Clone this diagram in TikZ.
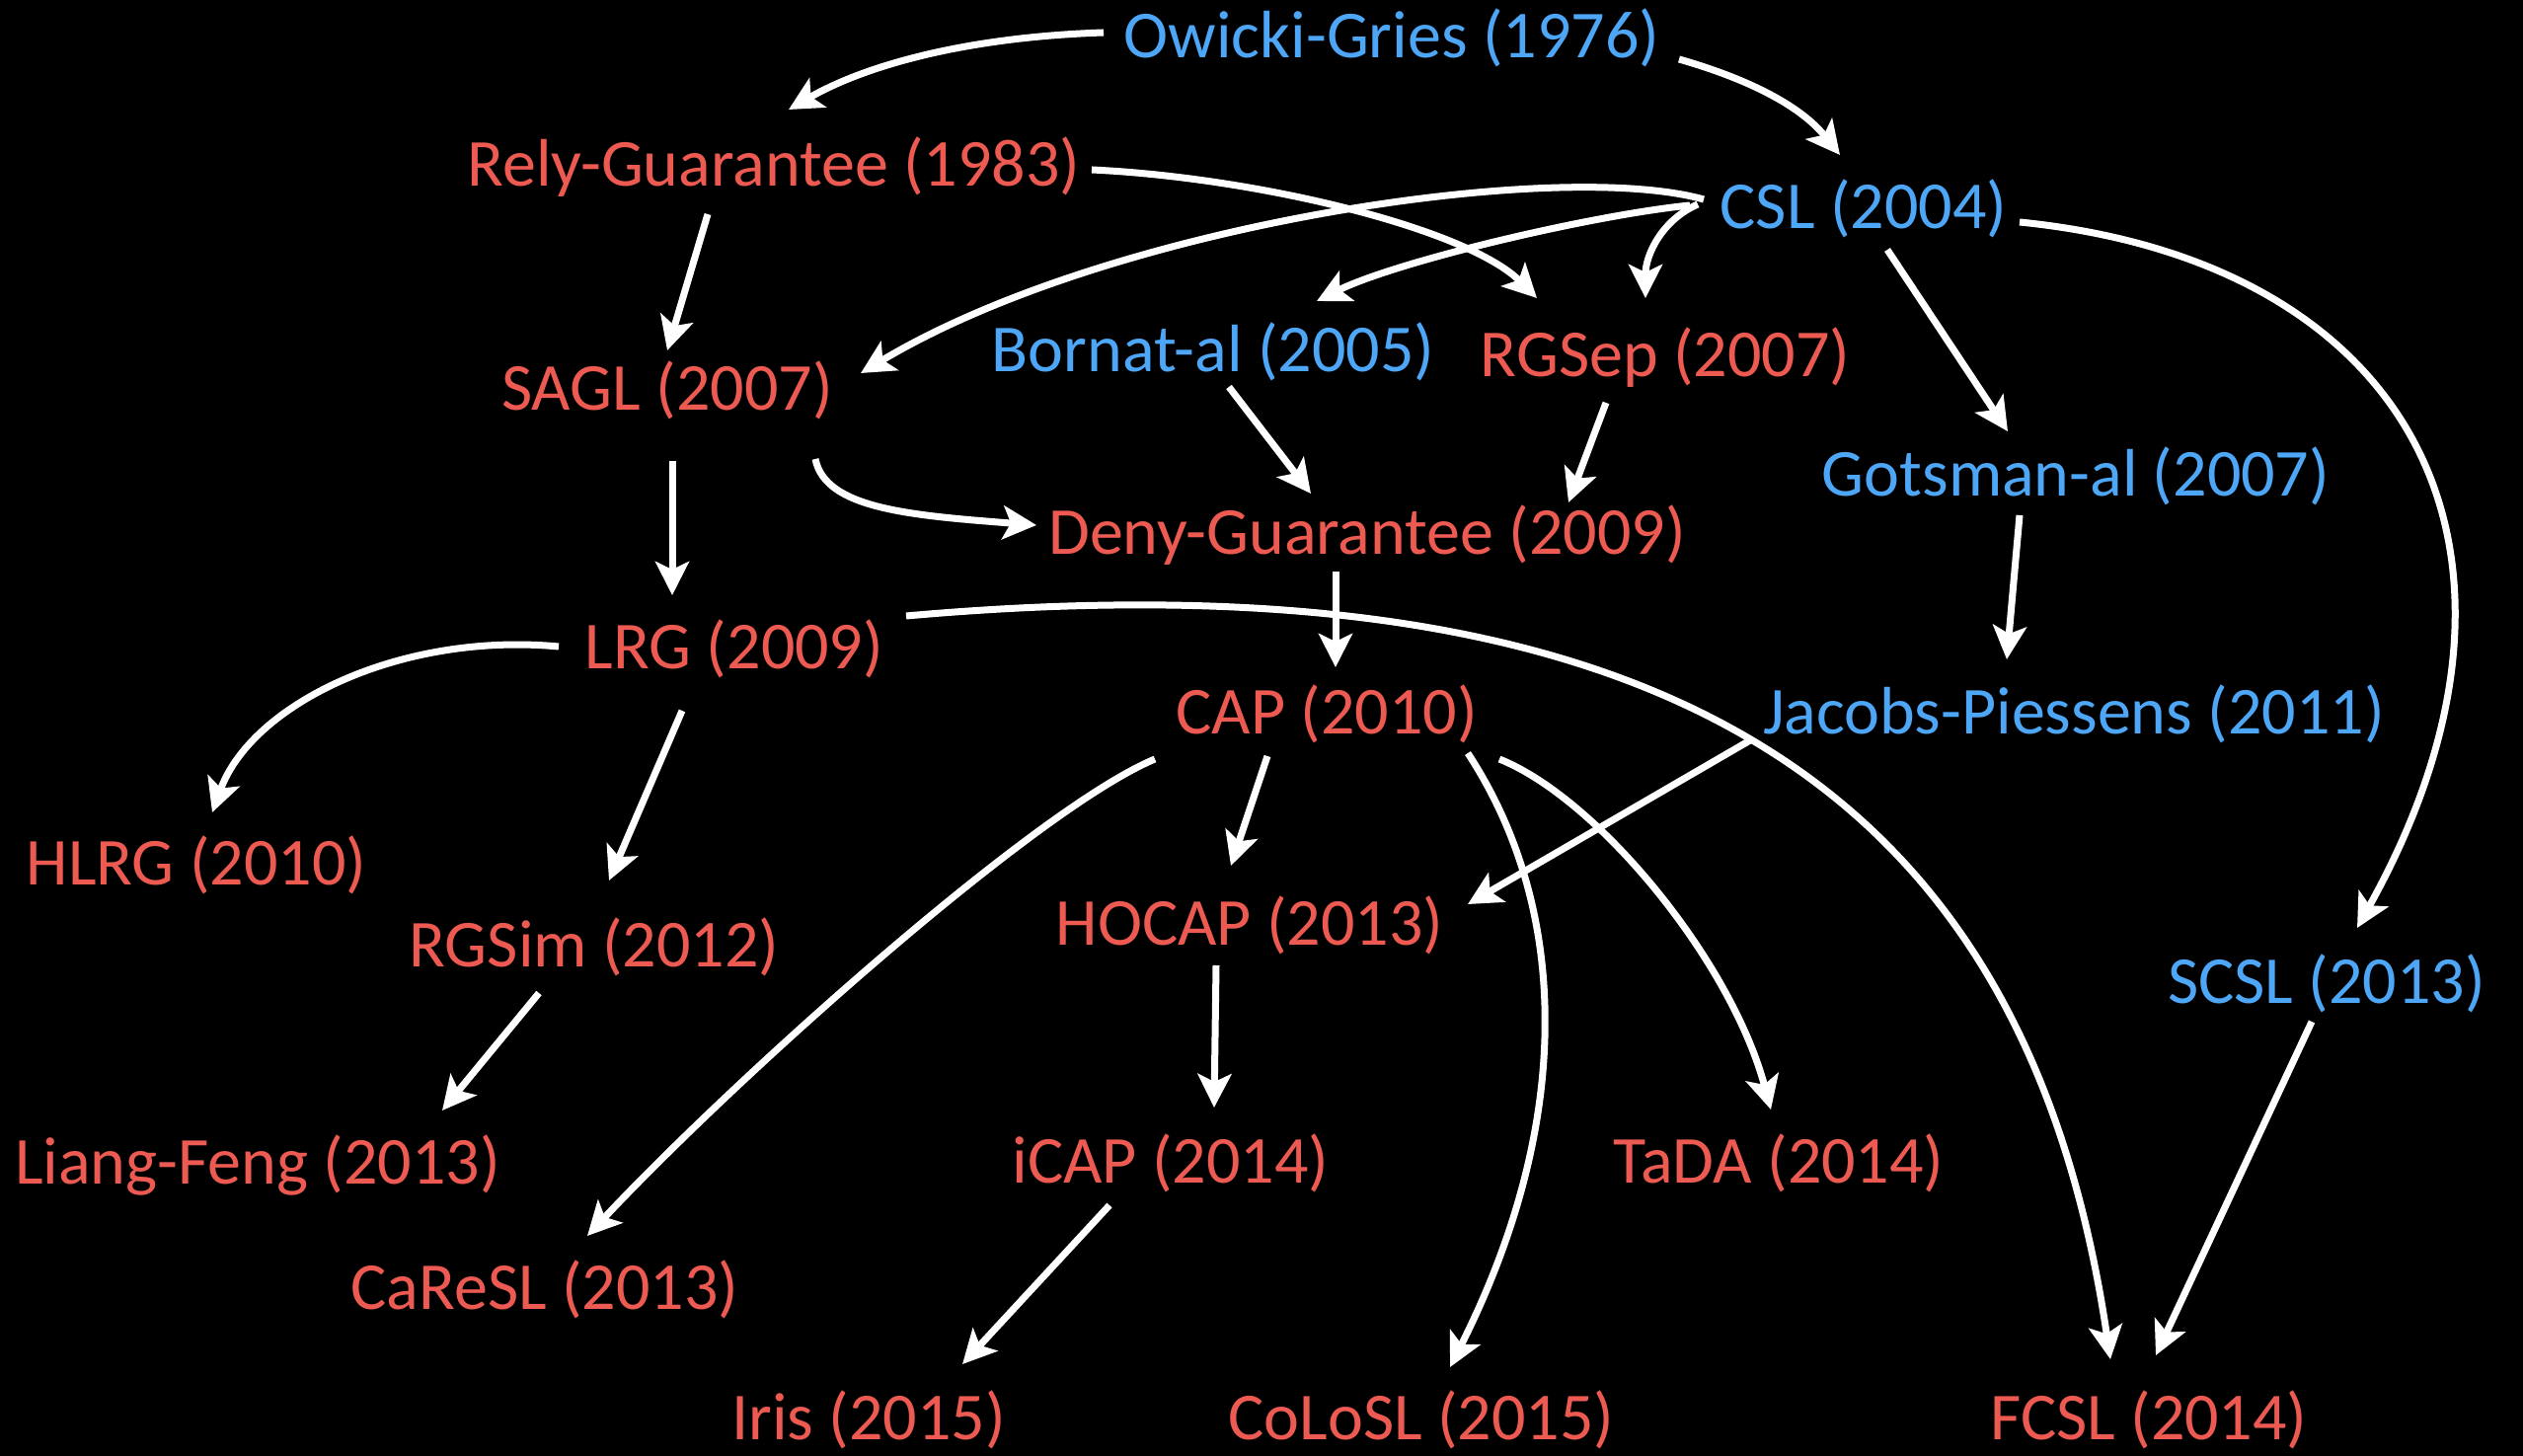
\documentclass[tikz,border=0pt]{standalone}
\usepackage{fontspec}
\setmainfont{Carlito}
\usetikzlibrary{arrows.meta,calc}
\definecolor{lblred}{RGB}{236,90,82}
\definecolor{lblblue}{RGB}{78,166,246}
\begin{document}
\begin{tikzpicture}[x=0.5pt,y=-0.5pt,
  lbl/.style={anchor=base,inner sep=0pt,font=\fontsize{34}{41}\selectfont},
  rednode/.style={lbl,text=lblred},
  bluenode/.style={lbl,text=lblblue},
  link/.style={draw=white,line width=3.5pt,-{Stealth[length=17pt,width=17pt,inset=4pt]}}]
\fill[black] (0,0) rectangle (2556,1475);
\useasboundingbox (0,0) rectangle (2556,1475);

% labels
\node[bluenode] (og)      at (1410,59)   {Owicki-Gries (1976)};
\node[rednode]  (rg)      at (784,189)   {Rely-Guarantee (1983)};
\node[bluenode] (csl)     at (1888,232)  {CSL (2004)};
\node[bluenode] (bornat)  at (1229,377)  {Bornat-al (2005)};
\node[rednode]  (rgsep)   at (1687,382)  {RGSep (2007)};
\node[rednode]  (sagl)    at (676,416)   {SAGL (2007)};
\node[bluenode] (gotsman) at (2103,503)  {Gotsman-al (2007)};
\node[rednode]  (deny)    at (1385,562)  {Deny-Guarantee (2009)};
\node[rednode]  (lrg)     at (744,678)   {LRG (2009)};
\node[rednode]  (cap)     at (1344,744)  {CAP (2010)};
\node[bluenode] (jacobs)  at (2101,744)  {Jacobs-Piessens (2011)};
\node[rednode]  (hlrg)    at (199,897)   {HLRG (2010)};
\node[rednode]  (hocap)   at (1266,958)  {HOCAP (2013)};
\node[rednode]  (rgsim)   at (602,980)   {RGSim (2012)};
\node[bluenode] (scsl)    at (2357,1016) {SCSL (2013)};
\node[rednode]  (liang)   at (261,1199)  {Liang-Feng (2013)};
\node[rednode]  (icap)    at (1186,1198) {iCAP (2014)};
\node[rednode]  (tada)    at (1802,1198) {TaDA (2014)};
\node[rednode]  (caresl)  at (552,1326)  {CaReSL (2013)};
\node[rednode]  (iris)    at (880,1458)  {Iris (2015)};
\node[rednode]  (colosl)  at (1440,1458) {CoLoSL (2015)};
\node[rednode]  (fcsl)    at (2177,1458) {FCSL (2014)};

% influence arrows
\draw[link] ([shift={(-292,-26)}]og.base) .. controls +(-150,5) and +(71,-41) .. ([shift={(15,-78)}]rg.base);
\draw[link] ([shift={(291,1)}]og.base) .. controls +(70,20) and +(-40,-50) .. ([shift={(-24,-75)}]csl.base);
\draw[link] ([shift={(-67,28)}]rg.base) -- ([shift={(0,-61)}]sagl.base);
\draw[link] ([shift={(322,-17)}]rg.base) .. controls +(170,8) and +(-70,-70) .. ([shift={(-130,-80)}]rgsep.base);
\draw[link] ([shift={(-162,-30)}]csl.base) .. controls +(-150,-42) and +(250,-150) .. ([shift={(196,-38)}]sagl.base);
\draw[link] ([shift={(-176,-24)}]csl.base) .. controls +(-100,10) and +(80,-40) .. ([shift={(105,-72)}]bornat.base);
\draw[link] ([shift={(-168,-25)}]csl.base) .. controls +(-35,15) and +(0,-45) .. ([shift={(-20,-80)}]rgsep.base);
\draw[link] ([shift={(24,21)}]csl.base) -- ([shift={(-69,-66)}]gotsman.base);
\draw[link] ([shift={(158,-7)}]csl.base) .. controls +(400,40) and +(212,-380) .. ([shift={(31,-76)}]scsl.base);
\draw[link] ([shift={(150,49)}]sagl.base) .. controls +(10,50) and +(-130,-10) .. ([shift={(-335,-30)}]deny.base);
\draw[link] ([shift={(5,51)}]sagl.base) -- ([shift={(-63,-75)}]lrg.base);
\draw[link] ([shift={(16,15)}]bornat.base) -- ([shift={(-57,-62)}]deny.base);
\draw[link] ([shift={(-60,26)}]rgsep.base) -- ([shift={(204,-53)}]deny.base);
\draw[link] ([shift={(-57,19)}]gotsman.base) -- ([shift={(-68,-76)}]jacobs.base);
\draw[link] ([shift={(-32,17)}]deny.base) -- ([shift={(9,-68)}]cap.base);
\draw[link] ([shift={(-178,-23)}]lrg.base) .. controls +(-160,-15) and +(40,-110) .. ([shift={(16,-74)}]hlrg.base);
\draw[link] ([shift={(-53,42)}]lrg.base) -- ([shift={(15,-88)}]rgsim.base);
\draw[link] ([shift={(174,-54)}]lrg.base) .. controls +(832,-74) and +(-78,-527) .. ([shift={(-39,-81)}]fcsl.base);
\draw[link] ([shift={(-174,25)}]cap.base) .. controls +(-120,50) and +(150,-160) .. ([shift={(43,-74)}]caresl.base);
\draw[link] ([shift={(-60,22)}]cap.base) -- ([shift={(-19,-81)}]hocap.base);
\draw[link] ([shift={(143,19)}]cap.base) .. controls +(103,157) and +(126,-250) .. ([shift={(29,-73)}]colosl.base);
\draw[link] ([shift={(175,25)}]cap.base) .. controls +(100,40) and +(-40,-150) .. ([shift={(-8,-74)}]tada.base);
\draw[link] ([shift={(-328,6)}]jacobs.base) -- ([shift={(221,-42)}]hocap.base);
\draw[link] ([shift={(-34,20)}]hocap.base) -- ([shift={(44,-76)}]icap.base);
\draw[link] ([shift={(-56,26)}]rgsim.base) -- ([shift={(187,-74)}]liang.base);
\draw[link] ([shift={(-62,23)}]icap.base) -- ([shift={(95,-76)}]iris.base);
\draw[link] ([shift={(-15,19)}]scsl.base) -- ([shift={(7,-85)}]fcsl.base);
\end{tikzpicture}
\end{document}
